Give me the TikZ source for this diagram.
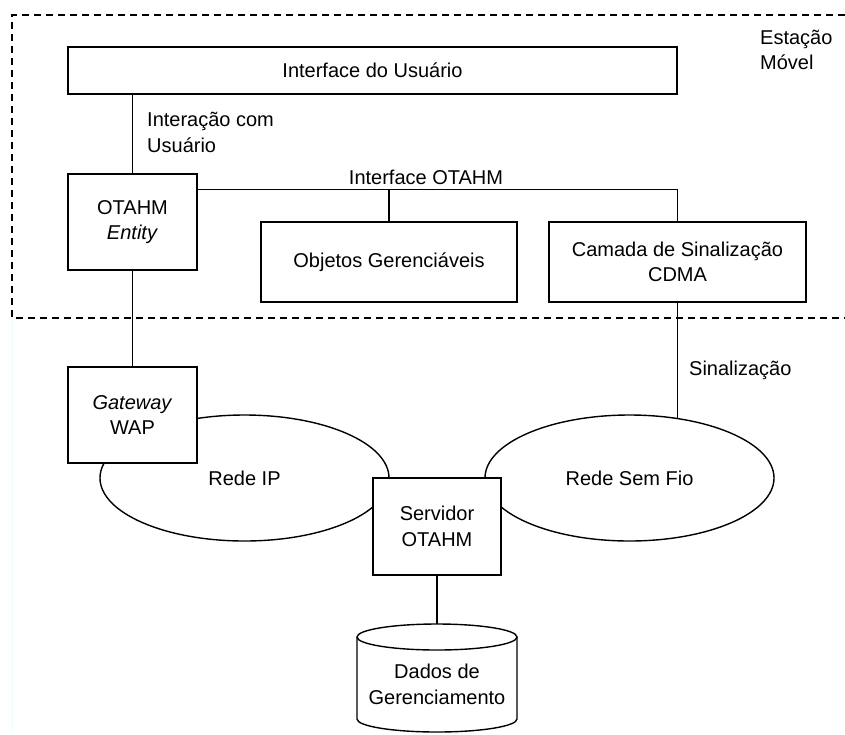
\documentclass[tikz,border=0pt]{standalone}
\usepackage{fontspec}
\setmainfont{Liberation Sans}
\usetikzlibrary{calc,backgrounds,shapes.geometric}
\begin{document}
\begin{tikzpicture}[x=1pt,y=-1pt,
  txt/.style={font=\fontsize{20}{25.5}\selectfont},
  box/.style={txt,draw,line width=1.4pt,fill=white,inner sep=0pt,align=center},
  ell/.style={txt,draw,ellipse,line width=1.4pt,fill=white,inner sep=0pt,align=center},
  lbl/.style={txt,inner sep=0pt,align=left},
  conn/.style={line width=1.4pt},
  frame/.style={line width=1.4pt,dash pattern=on 7pt off 5pt}]
\useasboundingbox (0,0) rectangle (845,734);
\draw[line width=1pt,color={rgb,255:red,238;green,252;blue,252}] (12,15) -- (12,734);
\draw[frame] (845,15) -- (12,15) -- (12,318) -- (845,318);

% networks (behind boxes)
\node[ell,minimum width=289,minimum height=126] (rip) at (244.5,478) {Rede IP};
\node[ell,minimum width=289,minimum height=126] (rsf) at (629.5,478) {Rede Sem Fio};

% boxes
\node[box,minimum width=609,minimum height=47] (iface) at (372.5,70.5) {Interface do Usuário};
\node[box,minimum width=129,minimum height=96] (entity) at (132.5,222) {OTAHM\\\textit{Entity}};
\node[box,minimum width=256,minimum height=80] (objetos) at (389,262) {Objetos Gerenciáveis};
\node[box,minimum width=257,minimum height=80] (camada) at (677.5,262) {Camada de Sinalização\\CDMA};
\node[box,minimum width=129,minimum height=96] (gateway) at (132.5,415) {\textit{Gateway}\\WAP};
\node[box,minimum width=128,minimum height=97] (servidor) at (437,526.5) {Servidor\\OTAHM};

% database cylinder
\draw[line width=1.4pt,fill=white] (357,637) -- (357,719) arc[start angle=180,end angle=360,x radius=80,y radius=-13] -- (517,637);
\draw[line width=1.4pt,fill=white] (437,637) ellipse[x radius=80,y radius=13];
\node[txt,inner sep=0pt,minimum width=160,minimum height=108,align=center] (db) at (437,684.5) {Dados de\\Gerenciamento};

% labels
\node[lbl,anchor=west] (lint) at (147,132.5) {Interação com\\Usuário};
\node[lbl] (lotahm) at (426,177) {Interface OTAHM};
\node[lbl,anchor=west] (lsin) at (689,370) {Sinalização};
\node[lbl,anchor=west] (lest) at (760,50) {Estação\\Móvel};

\coordinate (busL) at ($(entity.north east)+(0,16)$);

% connectors
\begin{pgfonlayer}{background}
\draw[conn] (iface.south -| entity.north) -- (entity.north);
\draw[conn] (busL) -| (camada.north);
\draw[conn] (objetos.north) -- (objetos.north |- busL);
\draw[conn] (entity.south) -- (gateway.north);
\draw[conn] (camada.south) -- (camada.south |- rsf.center);
\draw[conn] (servidor.south) -- (db.north);
\end{pgfonlayer}
\end{tikzpicture}
\end{document}
